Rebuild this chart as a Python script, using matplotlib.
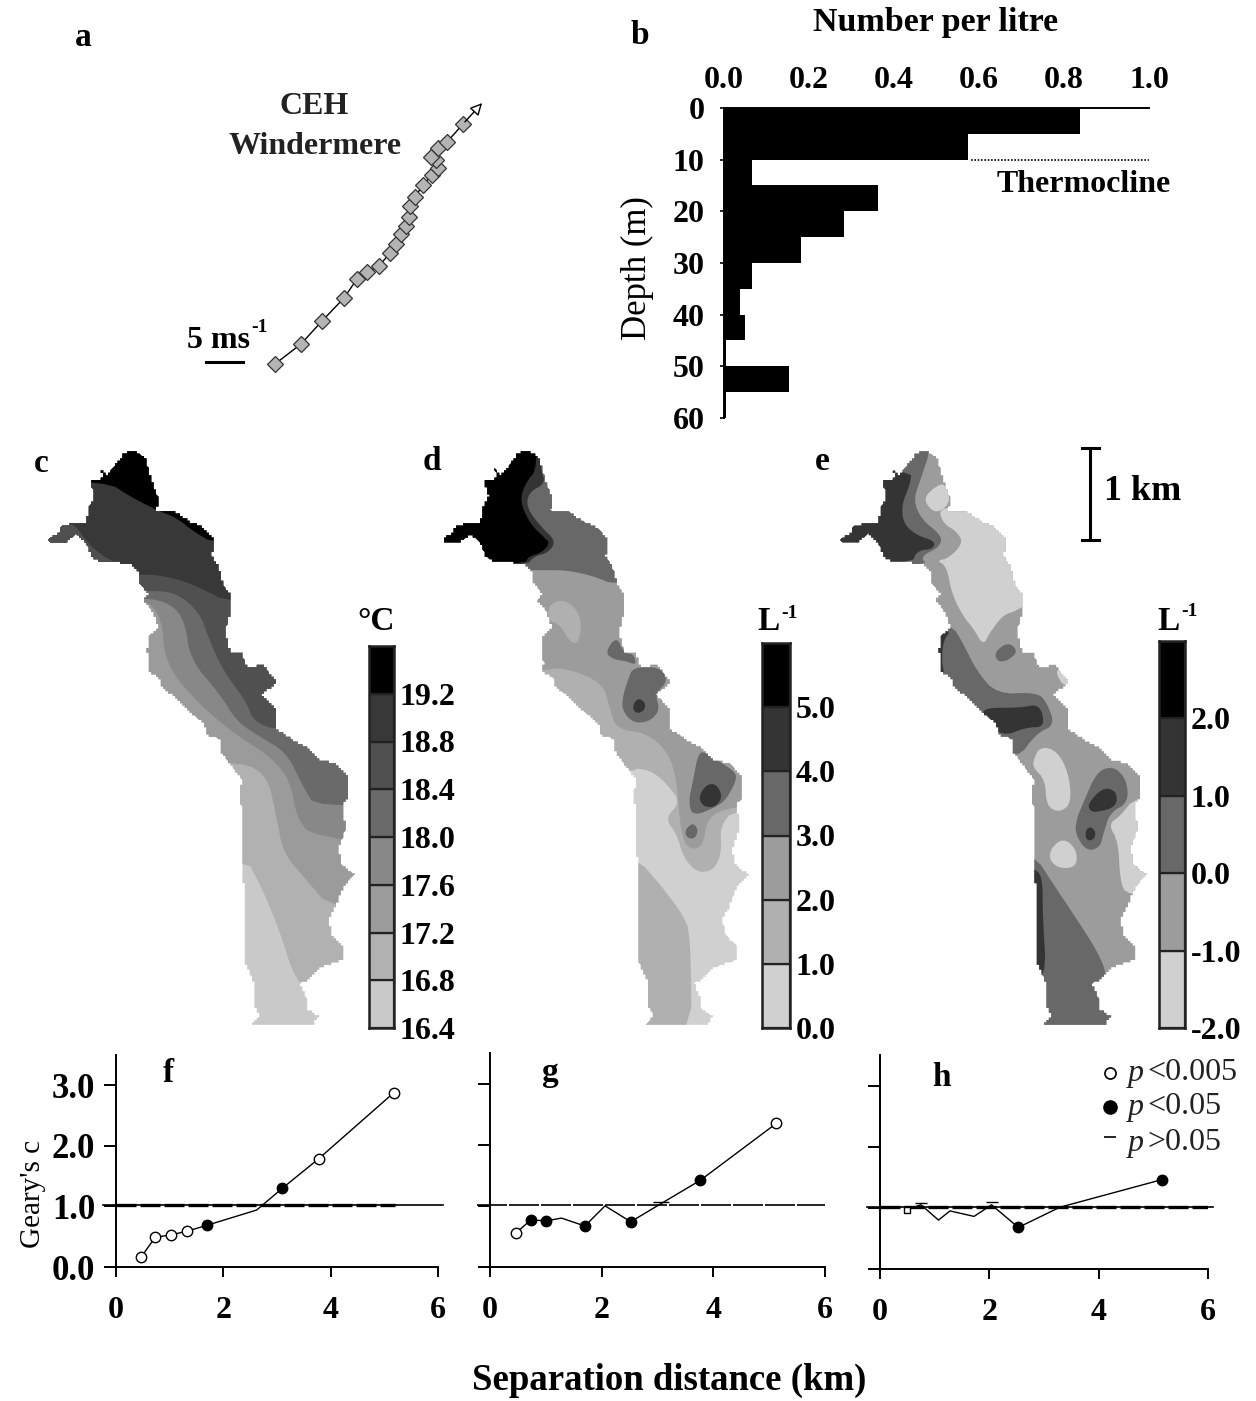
"""Windermere multi-panel figure: wind, depth profile, maps, Geary's c."""
import matplotlib
matplotlib.use('Agg')
import matplotlib.pyplot as plt
import numpy as np
from matplotlib.patches import Polygon

W, H = 1256, 1401
plt.rcParams['font.family'] = ['Liberation Serif', 'DejaVu Serif']

# a: wind vectors (traced, picture pixels)
wind_x = [275, 301, 322, 344, 357, 367, 379, 390, 396, 401, 406, 409, 410, 415, 423, 432, 438, 436, 431, 438, 447, 463]
wind_y = [364, 344, 321, 298, 279, 272, 266, 253, 244, 234, 226, 217, 206, 197, 185, 175, 168, 160, 157, 148, 142, 124]

# b: depth profile
depth_edges = [0, 5, 10, 15, 20, 25, 30, 35, 40, 45, 50, 55]
number_per_litre = [0.838, 0.575, 0.065, 0.362, 0.282, 0.18, 0.065, 0.037, 0.05, 0.004, 0.152, 0.004]
b_xticks = [0.0, 0.2, 0.4, 0.6, 0.8, 1.0]
b_yticks = [0, 10, 20, 30, 40, 50, 60]

# lake outline
LAKE = [(310, 60), (340, 50), (375, 70), (395, 130), (415, 175), (410, 205), (465, 210), (510, 235), (550, 250),
        (582, 280), (575, 325), (595, 350), (610, 400), (630, 420), (630, 470), (615, 520), (630, 570), (665, 575),
        (680, 610), (730, 605), (770, 650), (725, 680), (770, 720), (770, 770), (830, 805), (865, 820), (900, 850),
        (950, 860), (985, 895), (985, 950), (970, 960), (975, 1030), (955, 1080), (965, 1120), (1003, 1145),
        (970, 1175), (945, 1230), (925, 1260), (935, 1300), (970, 1330), (970, 1365), (900, 1385), (860, 1420),
        (840, 1425), (860, 1465), (860, 1490), (895, 1510), (880, 1532), (695, 1532), (720, 1510), (700, 1480),
        (700, 1420), (675, 1370), (670, 1130), (668, 970), (658, 960), (665, 900), (630, 860), (605, 830),
        (600, 795), (560, 785), (555, 760), (480, 700), (420, 655), (420, 640), (385, 620), (390, 600), (382, 570),
        (385, 530), (415, 510), (400, 470), (383, 450), (370, 440), (385, 420), (360, 395), (355, 365), (335, 345),
        (305, 345), (300, 340), (235, 335), (215, 325), (200, 290), (170, 265), (135, 290), (90, 290), (85, 280),
        (115, 265), (125, 245), (160, 240), (200, 240), (205, 200), (225, 170), (210, 130), (240, 130), (250, 115),
        (240, 95), (260, 115), (275, 100), (300, 75)]

# c: temperature bands, everything north of each contour
C_COLORS = ['#c9c9c9', '#b1b1b1', '#9b9b9b', '#888888', '#6a6a6a', '#505050', '#383838', '#000000']
C1 = [(-100, 1090), (672, 1095), (720, 1170), (760, 1250), (790, 1320), (815, 1390), (850, 1440), (1300, 1440), (1300, -100), (-100, -100)]
C2 = [(-100, 850), (630, 850), (740, 880), (770, 1000), (790, 1090), (860, 1160), (935, 1235), (1300, 1235), (1300, -100), (-100, -100)]
C3 = [(-100, 430), (370, 430), (425, 480), (435, 600), (530, 700), (640, 780), (750, 840), (810, 900), (830, 1000), (880, 1050), (1300, 1080), (1300, -100), (-100, -100)]
C4 = [(-100, 430), (370, 430), (450, 445), (495, 490), (510, 590), (600, 680), (650, 750), (720, 790), (800, 830), (850, 920), (890, 975), (1300, 945), (1300, -100), (-100, -100)]
C5 = [(-100, 410), (385, 412), (470, 418), (540, 470), (570, 545), (610, 620), (680, 700), (700, 750), (775, 775), (1300, 775), (1300, -100), (-100, -100)]
C6 = [(-100, 368), (350, 370), (440, 375), (530, 400), (640, 450), (1300, 450), (1300, -100), (-100, -100)]
C7 = [(-100, 130), (260, 130), (330, 170), (410, 205), (470, 225), (520, 260), (590, 295), (1300, 295), (1300, -100), (-100, -100)]
C_ARM = [(60, 300), (125, 245), (160, 238), (195, 280), (240, 320), (310, 350), (200, 380)]
c_bar_edges = [16.4, 16.8, 17.2, 17.6, 18.0, 18.4, 18.8, 19.2, 19.6]
c_bar_ticks = [16.4, 16.8, 17.2, 17.6, 18.0, 18.4, 18.8, 19.2]

# d: first abundance map
D_COLORS = ['#d0d0d0', '#b0b0b0', '#9c9c9c', '#686868', '#343434', '#000000']
D_SW = [(648, 1100), (720, 1170), (790, 1250), (812, 1300), (815, 1600), (500, 1600), (500, 1100)]
D_MID = [(-100, 860), (640, 880), (650, 870), (700, 880), (750, 920), (780, 960), (735, 1000), (770, 1040), (790, 1100), (830, 1140), (880, 1135), (905, 1090), (900, 1020), (945, 975), (1300, 970), (1300, -100), (-100, -100)]
D_UP = [(-100, 620), (365, 620), (430, 610), (550, 650), (570, 720), (590, 770), (680, 780), (745, 830), (770, 900), (780, 1020), (800, 1080), (850, 1075), (860, 1000), (930, 970), (1300, 930), (1300, -100), (-100, -100)]
D_PATCH = [(385, 450), (430, 435), (470, 460), (485, 500), (475, 550), (450, 545), (420, 500), (385, 490)]
D_NORTH = [(-100, 360), (330, 360), (360, 360), (440, 360), (520, 375), (590, 400), (1300, 400), (1300, -100), (-100, -100)]
D_TRI = [(555, 572), (590, 530), (612, 575), (640, 575), (650, 605), (620, 595), (580, 590)]
D_BLOB1 = [(640, 610), (720, 610), (745, 645), (705, 680), (720, 720), (690, 750), (640, 755), (605, 720), (610, 680), (625, 640)]
D_BLOB2 = [(835, 830), (860, 830), (900, 855), (945, 880), (950, 900), (920, 950), (890, 970), (820, 995), (805, 960), (820, 900)]
D_BLOB3 = [(800, 1025), (820, 1012), (835, 1030), (825, 1052), (805, 1052), (795, 1040)]
D_CORE1 = [(640, 705), (655, 690), (675, 700), (675, 720), (655, 730), (640, 722)]
D_CORE2 = [(835, 945), (860, 912), (890, 912), (908, 945), (885, 972), (850, 970)]
D_DARK = [(360, 100), (378, 135), (325, 160), (320, 200), (365, 250), (408, 285), (385, 315), (340, 325), (320, 350), (-100, 350), (-100, -100), (360, -100)]
D_BLACK = [(352, 100), (320, 130), (298, 180), (330, 240), (372, 275), (390, 290), (365, 315), (325, 325), (315, 345), (-100, 345), (-100, -100), (352, -100)]
d_bar_edges = [0, 1, 2, 3, 4, 5, 6]
d_bar_ticks = [0.0, 1.0, 2.0, 3.0, 4.0, 5.0]

# e: second abundance map
E_COLORS = ['#d0d0d0', '#9c9c9c', '#686868', '#343434', '#000000']
E_N = [(355, 200), (440, 195), (530, 195), (590, 250), (610, 320), (650, 430), (590, 465), (550, 475), (510, 520), (490, 555), (460, 510), (430, 480), (395, 420), (380, 350), (350, 335), (385, 330), (430, 290), (410, 260), (370, 240)]
E_TOP = [(310, 175), (345, 145), (375, 135), (392, 180), (365, 208), (335, 208)]
E_W = [(335, 40), (300, 130), (280, 180), (305, 230), (365, 270), (360, 300), (300, 325), (325, 350), (-100, 350), (-100, -100), (335, -100)]
E_NW = [(275, 100), (270, 140), (245, 190), (250, 240), (290, 270), (345, 285), (340, 305), (290, 310), (275, 345), (-100, 345), (-100, 100)]
E_BAND = [(395, 500), (430, 550), (470, 620), (530, 680), (650, 675), (680, 700), (705, 760), (650, 780), (590, 850), (500, 800), (300, 620), (300, 500)]
E_BANDCORE = [(490, 715), (600, 715), (660, 705), (675, 765), (620, 765), (545, 790), (490, 740)]
E_SLIVER1 = [(395, 515), (370, 540), (365, 600), (375, 630), (320, 630), (320, 515)]
E_S = [(640, 1090), (700, 1170), (770, 1260), (830, 1340), (860, 1400), (850, 1430), (900, 1600), (500, 1600), (500, 1090)]
E_SLIVER2 = [(650, 1130), (668, 1160), (668, 1250), (680, 1420), (600, 1420), (600, 1130)]
E_L1 = [(640, 850), (660, 815), (710, 825), (745, 880), (755, 960), (720, 985), (680, 970), (675, 900), (640, 870)]
E_L2 = [(690, 1080), (730, 1050), (770, 1080), (770, 1125), (720, 1130), (690, 1110)]
E_L3 = [(865, 1015), (900, 995), (945, 945), (1100, 945), (1100, 1200), (920, 1200), (900, 1160), (895, 1060)]
E_L4 = [(705, 620), (730, 615), (760, 650), (730, 660)]
E_B1 = [(790, 960), (830, 880), (880, 865), (920, 900), (925, 960), (870, 985), (850, 1040), (840, 1075), (800, 1085), (765, 1040), (770, 1000)]
E_B2 = [(805, 960), (850, 920), (890, 930), (890, 970), (830, 985), (808, 980)]
E_B3 = [(795, 1035), (810, 1020), (828, 1035), (822, 1055), (800, 1058)]
E_B4 = [(525, 570), (565, 545), (595, 570), (560, 595), (530, 595)]
e_bar_edges = [-2, -1, 0, 1, 2, 3]
e_bar_ticks = [-2.0, -1.0, 0.0, 1.0, 2.0]

# f, g, h: correlograms (marker: o open p<0.005, f filled p<0.05, n none)
f_dist = [0.465, 0.73, 1.02, 1.32, 1.70, 2.62, 3.10, 3.78, 5.18]
f_c = [0.16, 0.49, 0.53, 0.59, 0.69, 0.94, 1.30, 1.79, 2.88]
f_sig = ['o', 'o', 'o', 'o', 'f', 'n', 'f', 'o', 'o']
g_dist = [0.47, 0.73, 1.01, 1.28, 1.70, 2.06, 2.52, 3.07, 3.77, 5.13]
g_c = [0.56, 0.77, 0.755, 0.80, 0.67, 1.00, 0.74, 1.04, 1.42, 2.35]
g_sig = ['o', 'f', 'f', 'n', 'f', 'n', 'f', 'n', 'f', 'o']
h_dist = [0.49, 0.75, 1.07, 1.28, 1.72, 2.04, 2.53, 3.29, 5.15]
h_c = [0.97, 1.05, 0.80, 0.95, 0.86, 1.05, 0.68, 1.01, 1.46]
h_sig = ['n', 'n', 'n', 'n', 'n', 'n', 'f', 'n', 'f']
x_ticks = [0, 2, 4, 6]
y_ticks = [0, 1, 2, 3]
y_ticklabels = ['0.0', '1.0', '2.0', '3.0']


def chaikin(pts, n=2):
    p = np.array(pts, dtype=float)
    for _ in range(n):
        q = np.roll(p, -1, axis=0)
        p = np.column_stack([0.75 * p + 0.25 * q, 0.25 * p + 0.75 * q]).reshape(-1, 2)
    return p


def to_px(pts, x0):
    p = np.array(pts, dtype=float)
    return np.column_stack([x0 + p[:, 0] / 3, 430.6 + p[:, 1] * 0.3877])


def stairs(p, step=2.4):
    # the lake edge is a grid in the picture, so snap it to one
    p = np.vstack([p, p[:1]])
    s = np.r_[0, np.cumsum(np.hypot(*np.diff(p, axis=0).T))]
    t = np.arange(0, s[-1], 0.6)
    xy = np.column_stack([np.interp(t, s, p[:, 0]), np.interp(t, s, p[:, 1])])
    return np.round(xy / step) * step


def box(x0, y0, x1, y1):
    # axes from picture pixels, y down
    return fig.add_axes([x0 / W, 1 - y1 / H, (x1 - x0) / W, (y1 - y0) / H])


def draw_map(outline_x0, x0, base, layers):
    lake = Polygon(stairs(to_px(LAKE, outline_x0)), closed=True, fc=base, ec='none', zorder=1)
    ov.add_patch(lake)
    for pts, col in layers:
        p = Polygon(to_px(chaikin(pts), x0), closed=True, fc=col, ec='none', zorder=2)
        ov.add_patch(p)
        p.set_clip_path(lake)


def draw_bar(rect, edges, colors, ticks, labels):
    ax = box(*rect)
    ax.bar(0, np.diff(edges), bottom=edges[:-1], width=1, color=colors, edgecolor='#222222', linewidth=1.6, align='edge')
    ax.set_xlim(0, 1)
    ax.set_ylim(edges[0], edges[-1])
    ax.set_xticks([])
    ax.set_yticks(ticks)
    ax.set_yticklabels(labels, fontsize=23, fontweight='bold')
    ax.yaxis.tick_right()
    ax.tick_params(axis='y', length=0, pad=4)
    for s in ax.spines.values():
        s.set_linewidth(1.8)
        s.set_color('#222222')
    return ax


def draw_corr(rect, dist, c, sig, thick_end, show_y):
    ax = box(*rect)
    ax.set_xlim(0, 6)
    ax.set_ylim(0, 3.5)
    if thick_end:
        ax.axhline(1.02, xmin=-0.04, xmax=1.015, color='black', lw=1.2, clip_on=False)
        ax.plot([0, thick_end], [1.02, 1.02], color='black', lw=2.4, ls=(0, (6, 1.2)))
    else:
        ax.axhline(1.02, xmin=-0.04, xmax=1.0, color='black', lw=1.2, ls=(0, (18, 1.2)), clip_on=False)
    ax.plot(dist, c, color='black', lw=1.0, zorder=3)
    for xi, yi, s in zip(dist, c, sig):
        if s == 'o':
            ax.plot(xi, yi, 'o', mfc='white', mec='black', mew=1.0, ms=7.5, zorder=4)
        elif s == 'f':
            ax.plot(xi, yi, 'o', mfc='black', mec='black', ms=7.5, zorder=4)
    ax.set_xticks(x_ticks)
    ax.set_xticklabels([str(t) for t in x_ticks], fontsize=23, fontweight='bold')
    ax.set_yticks(y_ticks)
    if show_y:
        ax.set_yticklabels(y_ticklabels, fontsize=25, fontweight='bold')
    else:
        ax.set_yticklabels([])
    ax.tick_params(axis='both', width=1.4, length=9, pad=6)
    ax.tick_params(axis='x', length=7, pad=14)
    for s in ['top', 'right']:
        ax.spines[s].set_visible(False)
    for s in ['left', 'bottom']:
        ax.spines[s].set_linewidth(1.4)
    return ax


fig = plt.figure(figsize=(W / 100, H / 100), dpi=100)
ov = fig.add_axes([0, 0, 1, 1])
ov.set_xlim(0, W)
ov.set_ylim(H, 0)
ov.axis('off')

# panel letters
for letter, lx, ly in [('a', 83, 37), ('b', 640, 35), ('c', 41, 463), ('d', 432, 461), ('e', 822, 461),
                       ('f', 168, 1073), ('g', 550, 1073), ('h', 941, 1077)]:
    ov.text(lx, ly, letter, fontsize=24, fontweight='bold', ha='center', va='center', zorder=5)

# a
ov.plot(wind_x, wind_y, color='black', lw=1.0, zorder=2)
ov.plot(wind_x, wind_y, 'D', mfc='#b4b4b4', mec='#333333', mew=0.9, ms=8, zorder=3)
ov.annotate('', xy=(484, 101), xytext=(463, 124),
            arrowprops=dict(arrowstyle='-|>', color='black', lw=1.0, mutation_scale=18, fc='white'), zorder=3)
ov.text(314, 107, 'CEH', fontsize=23, ha='center', va='center', fontweight='bold', color='#222222')
ov.text(315, 146, 'Windermere', fontsize=23, ha='center', va='center', fontweight='bold', color='#222222')
ov.text(187, 340, '5 ms', fontsize=23, fontweight='bold', ha='left', va='center')
ov.text(251, 327, '-1', fontsize=14, fontweight='bold', ha='left', va='center')
ov.plot([206, 243], [362, 362], color='black', lw=2.2)

# b
axb = box(724, 108, 1149, 418)
axb.barh(depth_edges, number_per_litre, height=5, align='edge', color='black')
axb.set_xlim(0, 1)
axb.set_ylim(60, 0)
axb.xaxis.tick_top()
axb.set_xticks(b_xticks)
axb.set_xticklabels([f'{t:.1f}' for t in b_xticks], fontsize=23, fontweight='bold')
axb.set_yticks(b_yticks)
axb.set_yticklabels([str(t) for t in b_yticks], fontsize=23, fontweight='bold')
axb.tick_params(axis='x', length=0, pad=9)
axb.tick_params(axis='y', length=3, width=1.2, pad=11)
axb.spines['right'].set_visible(False)
axb.spines['bottom'].set_visible(False)
axb.spines['top'].set_linewidth(1.4)
axb.spines['left'].set_linewidth(1.4)
axb.plot([0.58, 1.0], [10, 10], color='black', lw=1.2, ls=(0, (1, 1)), clip_on=False)
ov.text(637, 268, 'Depth (m)', fontsize=25, rotation=90, ha='center', va='center')
ov.text(936, 23, 'Number per litre', fontsize=24.5, fontweight='bold', ha='center', va='center')
ov.text(1084, 184, 'Thermocline', fontsize=23, fontweight='bold', ha='center', va='center')

# c
c_layers = [(C1, C_COLORS[1]), (C2, C_COLORS[2]), (C3, C_COLORS[3]), (C4, C_COLORS[4]), (C5, C_COLORS[5]),
            (C6, C_COLORS[6]), (C_ARM, C_COLORS[5]), (C7, C_COLORS[7])]
draw_map(20, 20, C_COLORS[0], c_layers)
draw_bar((369, 646, 394, 1028), c_bar_edges, C_COLORS, c_bar_ticks, [f'{t:.1f}' for t in c_bar_ticks])
ov.text(376, 621, '°C', fontsize=24, fontweight='bold', ha='center', va='center')

# d
d_layers = [(D_SW, D_COLORS[1]), (D_MID, D_COLORS[1]), (D_UP, D_COLORS[2]), (D_PATCH, D_COLORS[1]),
            (D_NORTH, D_COLORS[3]), (D_TRI, D_COLORS[3]), (D_BLOB1, D_COLORS[3]), (D_BLOB2, D_COLORS[3]),
            (D_BLOB3, D_COLORS[3]), (D_CORE1, D_COLORS[4]), (D_CORE2, D_COLORS[4]),
            (D_DARK, D_COLORS[4]), (D_BLACK, D_COLORS[5])]
draw_map(414, 420, D_COLORS[0], d_layers)
draw_bar((762, 643, 790, 1028), d_bar_edges, D_COLORS, d_bar_ticks, [f'{t:.1f}' for t in d_bar_ticks])
ov.text(768, 622, 'L', fontsize=24, fontweight='bold', ha='center', va='center')
ov.text(789, 613, '-1', fontsize=14, fontweight='bold', ha='center', va='center')

# e
e_layers = [(E_W, E_COLORS[2]), (E_NW, E_COLORS[3]), (E_BAND, E_COLORS[2]), (E_BANDCORE, E_COLORS[3]),
            (E_SLIVER1, E_COLORS[3]), (E_S, E_COLORS[2]), (E_SLIVER2, E_COLORS[3]), (E_N, E_COLORS[0]),
            (E_TOP, E_COLORS[0]), (E_L1, E_COLORS[0]), (E_L2, E_COLORS[0]), (E_L3, E_COLORS[0]), (E_L4, E_COLORS[0]),
            (E_B1, E_COLORS[2]), (E_B2, E_COLORS[3]), (E_B3, E_COLORS[3]), (E_B4, E_COLORS[2])]
draw_map(812, 820, E_COLORS[1], e_layers)
draw_bar((1159, 641, 1185, 1028), e_bar_edges, E_COLORS, e_bar_ticks, [f'{t:.1f}' for t in e_bar_ticks])
ov.text(1168, 621, 'L', fontsize=24, fontweight='bold', ha='center', va='center')
ov.text(1189, 612, '-1', fontsize=14, fontweight='bold', ha='center', va='center')

# 1 km scale
ov.plot([1090, 1090], [448, 540], color='black', lw=2.2)
ov.plot([1082, 1099], [448, 448], color='black', lw=2.2)
ov.plot([1082, 1099], [540, 540], color='black', lw=2.2)
ov.text(1143, 491, '1 km', fontsize=26, fontweight='bold', ha='center', va='center')

# f, g, h
axf = draw_corr((116, 1055, 438, 1267), f_dist, f_c, f_sig, 5.2, True)
ov.text(33, 1194, "Geary's c", fontsize=21, rotation=90, ha='center', va='center')
axg = draw_corr((490, 1053, 825, 1267), g_dist, g_c, g_sig, 0, False)
axg.plot([g_dist[7]], [g_c[7] + 0.03], '_', color='black', ms=11, mew=1.0, zorder=4)
axh = draw_corr((880, 1055, 1208, 1269), h_dist, h_c, h_sig, 6.0, False)
axh.plot([0.75, 2.04], [1.08, 1.09], '_', color='black', ms=9, mew=1.0, zorder=4)
axh.plot([0.49], [0.97], 's', mfc='white', mec='black', ms=4, zorder=4)

# legend of panel h
ov.plot(1110, 1073, 'o', mfc='white', mec='black', mew=1.2, ms=8, zorder=5)
ov.plot(1110, 1107, 'o', mfc='black', mec='black', ms=9.5, zorder=5)
ov.plot(1110, 1137, '_', color='black', ms=8, mew=1.2, zorder=5)
for ly, sym in [(1072, '<0.005'), (1106, '<0.05'), (1142, '>0.05')]:
    ov.text(1128, ly + 2, 'p', fontsize=23, style='italic', ha='left', va='center', color='#222222', zorder=5)
    ov.text(1147, ly, sym, fontsize=23, ha='left', va='center', color='#222222', zorder=5)

ov.text(669, 1380, 'Separation distance (km)', fontsize=26.5, fontweight='bold', ha='center', va='center')
ov.set_zorder(3)
ov.patch.set_visible(False)

fig.savefig('out.png', dpi=100)
